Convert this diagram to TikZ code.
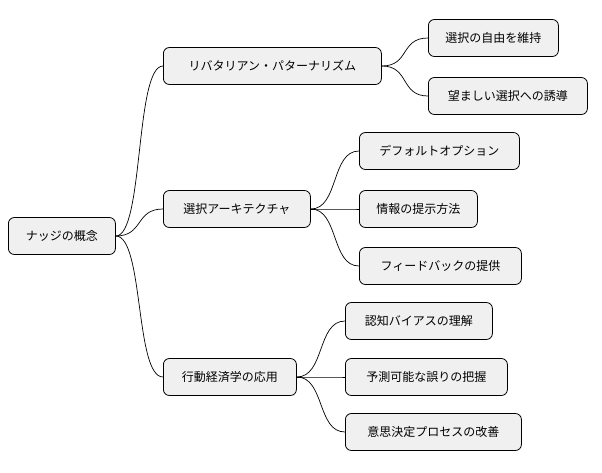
\documentclass[tikz,border=0pt]{standalone}
\usepackage{fontspec}
\setmainfont{Noto Sans CJK JP}
\usetikzlibrary{calc}
\begin{document}
\begin{tikzpicture}[x=1pt,y=-1pt,
  box/.style={draw=black,fill=gray!12,rounded corners=6pt,line width=0.8pt,anchor=west,minimum height=37pt,inner xsep=10pt,font=\fontsize{12}{14}\selectfont},
  link/.style={line width=0.7pt}]
\useasboundingbox (0,0) rectangle (602,472);
\node[box,minimum width=107pt] (root) at (8,236) {ナッジの概念};
\node[box,minimum width=218pt] (a) at (163,66) {リバタリアン・パターナリズム};
\node[box,minimum width=130pt] (a1) at (428,38) {選択の自由を維持};
\node[box,minimum width=159pt] (a2) at (428,96) {望ましい選択への誘導};
\node[box,minimum width=147pt] (b) at (163,209) {選択アーキテクチャ};
\node[box,minimum width=160pt] (b1) at (359,151) {デフォルトオプション};
\node[box,minimum width=118pt] (b2) at (359,209) {情報の提示方法};
\node[box,minimum width=162pt] (b3) at (359,266) {フィードバックの提供};
\node[box,minimum width=133pt] (c) at (163,377) {行動経済学の応用};
\node[box,minimum width=147pt] (c1) at (345,321) {認知バイアスの理解};
\node[box,minimum width=162pt] (c2) at (345,377) {予測可能な誤りの把握};
\node[box,minimum width=176pt] (c3) at (345,432) {意思決定プロセスの改善};
\foreach \p/\c in {root/a,root/b,root/c,a/a1,a/a2,b/b1,b/b2,b/b3,c/c1,c/c2,c/c3}{
  \draw[link] (\p.east) .. controls ($(\p.east)+(28,0)$) and ($(\c.west)-(28,0)$) .. (\c.west);
}
\end{tikzpicture}
\end{document}
